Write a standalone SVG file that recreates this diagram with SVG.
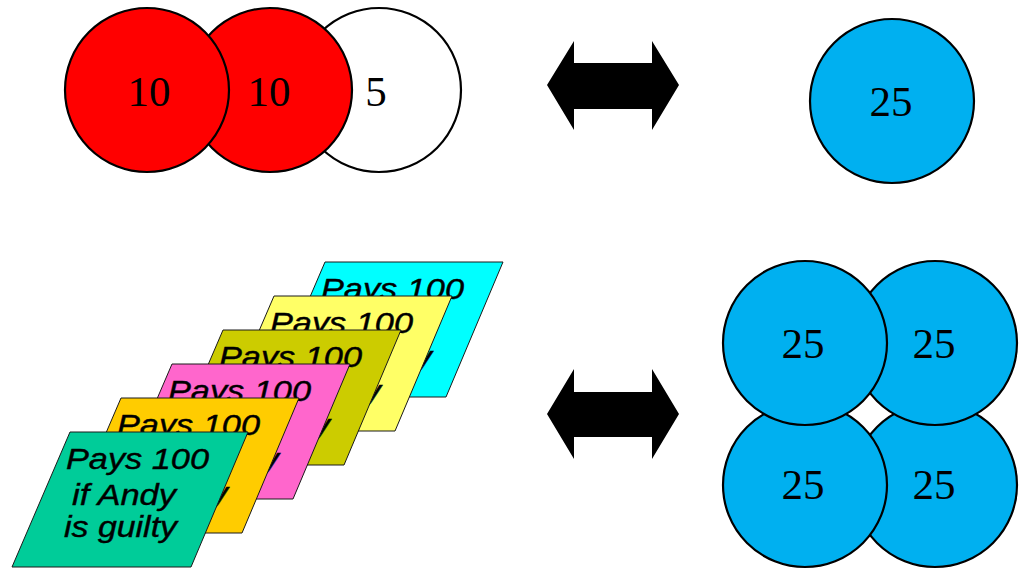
<svg xmlns="http://www.w3.org/2000/svg" width="1024" height="581" viewBox="0 0 1024 581">
<style>
.circ{stroke:#000;stroke-width:2.2}
.red{fill:#FF0000}
.white{fill:#FFFFFF}
.blue{fill:#00B0F0}
.num{font-family:"Liberation Serif","Times New Roman",serif;font-size:43px;fill:#000;text-anchor:middle}
.card{stroke:#1a1a1a;stroke-width:1}
.ct{font-family:"Liberation Sans",Arial,sans-serif;font-style:italic;font-size:30px;fill:#000;stroke:#000;stroke-width:0.4}
.arrow{fill:#000}
</style>
<rect width="1024" height="581" fill="#FFFFFF"/>
<g id="coin-5">
<circle class="circ white" cx="379" cy="90" r="82"/>
<text class="num" x="376" y="106">5</text>
</g>
<g id="coin-10b">
<circle class="circ red" cx="270" cy="90" r="82"/>
<text class="num" x="269" y="106">10</text>
</g>
<g id="coin-10a">
<circle class="circ red" cx="147" cy="90" r="82"/>
<text class="num" x="149" y="106">10</text>
</g>
<g id="coin-25">
<circle class="circ blue" cx="892" cy="101" r="82"/>
<text class="num" x="891" y="116">25</text>
</g>
<g id="coin-25-br">
<circle class="circ blue" cx="935" cy="485" r="82"/>
<text class="num" x="934" y="499">25</text>
</g>
<g id="coin-25-bl">
<circle class="circ blue" cx="805" cy="485" r="82"/>
<text class="num" x="803" y="499">25</text>
</g>
<g id="coin-25-tr">
<circle class="circ blue" cx="935" cy="343" r="82"/>
<text class="num" x="934" y="358">25</text>
</g>
<g id="coin-25-tl">
<circle class="circ blue" cx="805" cy="343" r="82"/>
<text class="num" x="803" y="358">25</text>
</g>
<g id="card-cyan" transform="translate(325,262)">
<polygon class="card" fill="#00FFFF" points="0,0 178,0 121,135 -58,135"/>
<text class="ct" x="-4" y="37" textLength="143" lengthAdjust="spacingAndGlyphs">Pays 100</text>
<text class="ct" x="2" y="73" textLength="104" lengthAdjust="spacingAndGlyphs">if Andy</text>
<text class="ct" x="-6" y="105" textLength="113" lengthAdjust="spacingAndGlyphs">is guilty</text>
</g>
<g id="card-yellow" transform="translate(274,296)">
<polygon class="card" fill="#FFFF66" points="0,0 178,0 121,135 -58,135"/>
<text class="ct" x="-4" y="37" textLength="143" lengthAdjust="spacingAndGlyphs">Pays 100</text>
<text class="ct" x="2" y="73" textLength="104" lengthAdjust="spacingAndGlyphs">if Andy</text>
<text class="ct" x="-6" y="105" textLength="113" lengthAdjust="spacingAndGlyphs">is guilty</text>
</g>
<g id="card-olive" transform="translate(223,330)">
<polygon class="card" fill="#CCCC00" points="0,0 178,0 121,135 -58,135"/>
<text class="ct" x="-4" y="37" textLength="143" lengthAdjust="spacingAndGlyphs">Pays 100</text>
<text class="ct" x="2" y="73" textLength="104" lengthAdjust="spacingAndGlyphs">if Andy</text>
<text class="ct" x="-6" y="105" textLength="113" lengthAdjust="spacingAndGlyphs">is guilty</text>
</g>
<g id="card-pink" transform="translate(172,364)">
<polygon class="card" fill="#FF66CC" points="0,0 178,0 121,135 -58,135"/>
<text class="ct" x="-4" y="37" textLength="143" lengthAdjust="spacingAndGlyphs">Pays 100</text>
<text class="ct" x="2" y="73" textLength="104" lengthAdjust="spacingAndGlyphs">if Andy</text>
<text class="ct" x="-6" y="105" textLength="113" lengthAdjust="spacingAndGlyphs">is guilty</text>
</g>
<g id="card-orange" transform="translate(121,398)">
<polygon class="card" fill="#FFCC00" points="0,0 178,0 121,135 -58,135"/>
<text class="ct" x="-4" y="37" textLength="143" lengthAdjust="spacingAndGlyphs">Pays 100</text>
<text class="ct" x="2" y="73" textLength="104" lengthAdjust="spacingAndGlyphs">if Andy</text>
<text class="ct" x="-6" y="105" textLength="113" lengthAdjust="spacingAndGlyphs">is guilty</text>
</g>
<g id="card-green" transform="translate(70,432)">
<polygon class="card" fill="#00CC99" points="0,0 178,0 121,135 -58,135"/>
<text class="ct" x="-4" y="37" textLength="143" lengthAdjust="spacingAndGlyphs">Pays 100</text>
<text class="ct" x="2" y="73" textLength="104" lengthAdjust="spacingAndGlyphs">if Andy</text>
<text class="ct" x="-6" y="105" textLength="113" lengthAdjust="spacingAndGlyphs">is guilty</text>
</g>
<g id="connectors">
<polygon class="arrow" points="547,85 574,41 574,63 652,63 652,41 679,85 652,130 652,109 574,109 574,130"/>
<polygon class="arrow" points="547,414 574,369 574,392 652,392 652,369 679,414 652,459 652,437 574,437 574,459"/>
</g>
</svg>
